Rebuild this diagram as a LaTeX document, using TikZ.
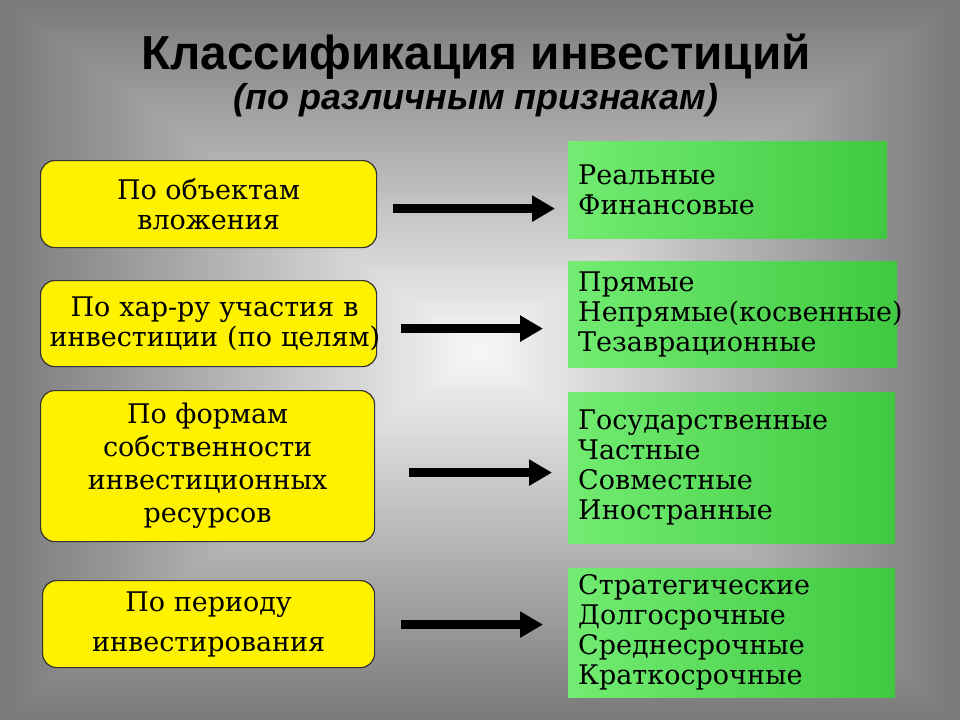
\documentclass[tikz,border=0pt]{standalone}
\usepackage{fontspec}
\setmainfont{DejaVu Serif}
\newfontfamily\bodyserif{DejaVu Serif}
\newfontfamily\titlefont{Liberation Sans}
\usetikzlibrary{arrows.meta,calc}
\definecolor{gLeft}{HTML}{72EC72}
\definecolor{gRight}{HTML}{40C940}
\definecolor{bgEdge}{HTML}{7A7A7A}
\definecolor{bgCenter}{HTML}{F6F6F6}
\tikzset{
  ybox/.style={draw=black!80, line width=1.2pt, fill=yellow, rounded corners=14pt,
    align=center, inner sep=0pt, anchor=north west,
    font=\bodyserif\fontsize{27}{30}\selectfont},
  gbox/.style={left color=gLeft, right color=gRight, align=left, anchor=north west,
    inner xsep=10pt, inner ysep=0pt, font=\bodyserif\fontsize{27}{30}\selectfont},
  arr/.style={line width=9pt, -{Triangle[length=23pt,width=25pt]}},
}
\begin{document}
\begin{tikzpicture}[x=1pt,y=-1pt]
\useasboundingbox (0,0) rectangle (960,720);
% rectangular gradient background
\foreach \i in {0,...,59}{
  \pgfmathsetmacro{\mixp}{100*\i/59}
  \pgfmathsetmacro{\ya}{\i/60*350}
  \pgfmathsetmacro{\yb}{720-\i/60*370}
  \fill[bgCenter!\mixp!bgEdge] ({\i*8},\ya) rectangle ({960-\i*8},\yb);
}
% title
\node[font=\titlefont\bfseries\fontsize{47.7}{50}\selectfont] (title) at (476,57) {Классификация инвестиций};
\node[font=\titlefont\bfseries\itshape\fontsize{36}{38}\selectfont] (sub) at (476,100) {(по различным признакам)};
% yellow boxes
\node[ybox, minimum width=336pt, minimum height=87pt] (y1) at (40,160) {По объектам\\вложения};
\node[ybox, text width=336pt, minimum height=86pt] (y2) at (40,280) {\mbox{\hspace*{12pt}По хар-ру участия в}\\\mbox{\hspace*{9pt}инвестиции (по целям)}};
\node[ybox, minimum width=334pt, minimum height=151pt, font=\bodyserif\fontsize{27}{33}\selectfont] (y3) at (40,390) {По формам\\собственности\\инвестиционных\\ресурсов};
\node[ybox, minimum width=332pt, minimum height=87pt, font=\bodyserif\fontsize{27}{40}\selectfont] (y4) at (42,580) {По периоду\\инвестирования};
% green boxes
\node[gbox, text width=299pt, minimum height=97pt] (g1) at (568,141) {Реальные\\Финансовые};
\node[gbox, text width=309pt, minimum height=106pt] (g2) at (568,261) {Прямые\\Непрямые(косвенные)\\Тезаврационные};
\node[gbox, text width=307pt, minimum height=151pt] (g3) at (568,392) {Государственные\\Частные\\Совместные\\Иностранные};
\node[gbox, text width=307pt, minimum height=129pt] (g4) at (568,568) {Стратегические\\Долгосрочные\\Среднесрочные\\Краткосрочные};
% arrows
\draw[arr] ($(y1.east)+(16,4.5)$) -- ($(y1.east -| g1.west)+(-13,4.5)$);
\draw[arr] ($(y2.east)+(24,5)$) -- ($(y2.east -| g2.west)+(-25,5)$);
\draw[arr] ($(y3.east)+(34,6.5)$) -- ($(y3.east -| g3.west)+(-16,6.5)$);
\draw[arr] ($(y4.east)+(26,0.5)$) -- ($(y4.east -| g4.west)+(-25,0.5)$);
\end{tikzpicture}
\end{document}
